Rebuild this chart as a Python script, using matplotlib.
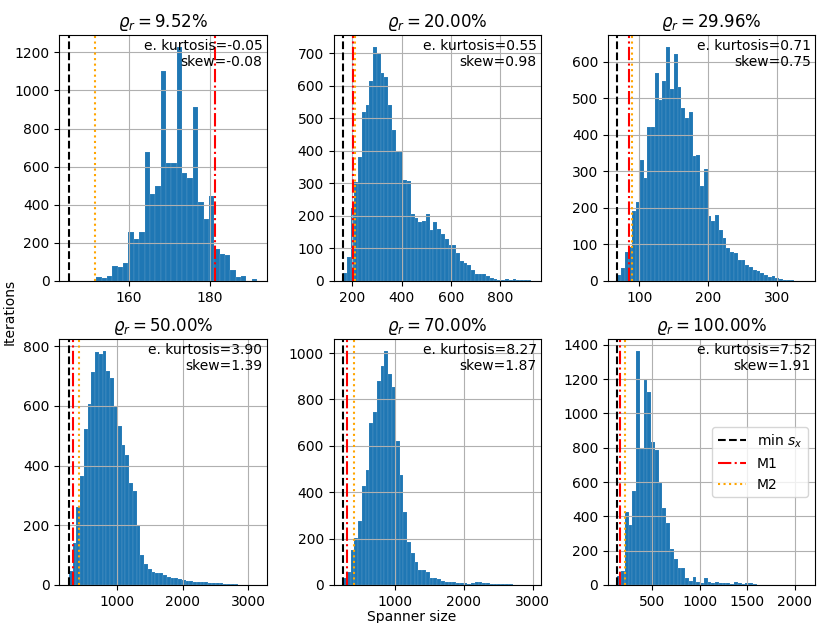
import numpy as np
import matplotlib
matplotlib.use('Agg')
import matplotlib.pyplot as plt
from matplotlib.ticker import MultipleLocator

# ratio of each panel (title)
ratios = ['9.52', '20.00', '29.96', '50.00', '70.00', '100.00']

# histogram range (first / last bin edge) and counts
hist_lo = [151.9, 162, 68, 268, 236, 132]
hist_hi = [191.7, 926, 341, 3137, 2984, 2116]

counts_1 = [23, 17, 26, 80, 75, 96, 255, 219, 255, 679, 455, 500, 1100, 617, 619,
            1230, 565, 539, 915, 413, 324, 446, 166, 140, 136, 58, 23, 28, 0, 9]
counts_2 = [25, 75, 225, 305, 380, 520, 540, 615, 720, 700, 640, 628, 540, 465, 400,
            400, 310, 306, 205, 193, 181, 183, 205, 155, 180, 160, 145, 130, 110, 110,
            85, 60, 55, 50, 35, 22, 22, 20, 15, 8, 5, 3, 3, 5, 3, 5, 2, 3, 3, 2]
counts_3 = [16, 35, 80, 94, 190, 215, 332, 282, 422, 422, 568, 495, 548, 641, 524,
            622, 530, 472, 446, 462, 343, 345, 259, 305, 177, 163, 180, 140, 117, 90,
            80, 76, 58, 58, 44, 39, 30, 26, 21, 16, 12, 14, 7, 5, 3, 3, 2, 1, 1, 1]
counts_4 = [47, 140, 260, 365, 522, 606, 713, 780, 775, 785, 716, 695, 600, 533, 470,
            435, 342, 314, 200, 100, 70, 55, 45, 40, 40, 35, 28, 25, 22, 20,
            17, 12, 12, 11, 11, 10, 9, 8, 6, 6, 7, 4, 3, 2, 2, 1, 1, 1, 0, 1]
counts_5 = [32, 58, 151, 201, 276, 427, 496, 698, 744, 878, 942, 1010, 909, 853, 619,
            472, 314, 184, 140, 100, 65, 65, 55, 32, 29, 24, 17, 14, 12, 12,
            10, 7, 7, 6, 7, 14, 12, 10, 8, 6, 5, 6, 4, 4, 3, 2, 2, 1, 1, 1]
counts_6 = [50, 80, 428, 350, 549, 1366, 798, 1196, 1128, 833, 788, 593, 451, 364, 208,
            152, 97, 97, 39, 23, 49, 19, 10, 43, 19, 10, 16, 10, 10, 12,
            8, 16, 10, 6, 10, 9, 3, 2, 1, 1, 0, 1, 0, 0, 1, 0, 0, 0, 0, 1]
all_counts = [counts_1, counts_2, counts_3, counts_4, counts_5, counts_6]

# vertical reference lines
min_sx = [145.1, 160.8, 67.1, 266, 235, 128]
m1 = [181.2, 201, 85.5, 327, 298, 165]
m2 = [151.7, 212, 89.9, 418, 395, 211]

kurtosis = [-0.05, 0.55, 0.71, 3.90, 8.27, 7.52]
skew = [-0.08, 0.98, 0.75, 1.39, 1.87, 1.91]

# x tick step per panel
x_steps = [20, 200, 100, 1000, 1000, 500]

fig, axes = plt.subplots(2, 3, figsize=(8.3, 6.23), dpi=100)
fig.subplots_adjust(left=0.0715, right=0.982, top=0.944, bottom=0.061,
                    wspace=0.323, hspace=0.236)

for i, ax in enumerate(axes.flat):
    c = np.array(all_counts[i], dtype=float)
    edges = np.linspace(hist_lo[i], hist_hi[i], len(c) + 1)
    centers = (edges[:-1] + edges[1:]) / 2
    ax.hist(centers, bins=edges, weights=c, color='C0',
            edgecolor=(1, 1, 1, 0.25), linewidth=0.3)
    ax.axvline(min_sx[i], color='black', linestyle='--', lw=1.5, label='min $s_x$')
    ax.axvline(m1[i], color='red', linestyle='-.', lw=1.5, label='M1')
    ax.axvline(m2[i], color='orange', linestyle=':', lw=1.5, label='M2')
    ax.xaxis.set_major_locator(MultipleLocator(x_steps[i]))
    ax.grid(True)
    ax.set_title(r'$\varrho_r = %s\%%$' % ratios[i], fontsize=12)
    ax.text(0.98, 0.985, 'e. kurtosis=%.2f\nskew=%.2f' % (kurtosis[i], skew[i]),
            transform=ax.transAxes, ha='right', va='top', fontsize=10)

axes[1, 2].legend(loc='center right', fontsize=10)

fig.text(0.012, 0.5, 'Iterations', rotation=90, va='center', ha='center', fontsize=10)
fig.text(0.496, 0.021, 'Spanner size', ha='center', va='top', fontsize=10)

plt.savefig('out.png', dpi=100)
